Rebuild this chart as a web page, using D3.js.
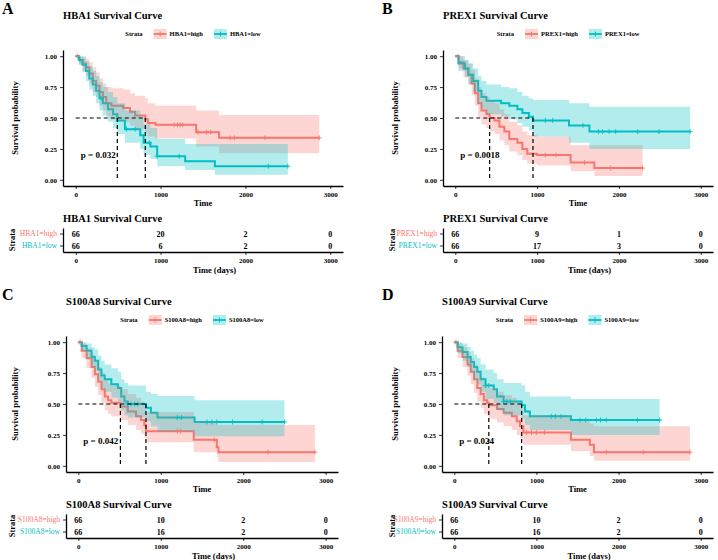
<!DOCTYPE html>
<html lang="en">
<head>
<meta charset="UTF-8">
<title>Survival Curves</title>
<style>
  body { margin: 0; background: #fff; }
  .axis path, .axis line { stroke: #000; }
</style>
</head>
<body>
<svg id="chart" width="718" height="560" font-family="'Liberation Serif', 'Times New Roman', serif" font-weight="bold"></svg>
<script src="https://d3js.org/d3.v7.min.js"></script>
<script>
// ---- data ----
const genes = ["HBA1", "PREX1", "S100A8", "S100A9"];
const letters = ["A", "B", "C", "D"];
const pValues = ["p = 0.032", "p = 0.0018", "p = 0.042", "p = 0.024"];
const xTicks = [0, 1000, 2000, 3000];
const yTicks = [0, 0.25, 0.5, 0.75, 1];

// risk table: numbers at risk at 0, 1000, 2000, 3000
const riskHigh = [[66, 20, 2, 0], [66, 9, 1, 0], [66, 10, 2, 0], [66, 10, 2, 0]];
const riskLow  = [[66, 6, 2, 0],  [66, 17, 3, 0], [66, 16, 2, 0], [66, 16, 2, 0]];

// median survival (high, low)
const medians = [[820, 490], [420, 950], [510, 820], [420, 820]];

// KM steps: [time, survival, lower, upper]
const hba1High = [
  [0,1,1,1],[40,0.97,0.93,1],[80,0.94,0.88,1],[120,0.91,0.84,0.98],[160,0.86,0.78,0.95],
  [200,0.80,0.71,0.91],[240,0.76,0.67,0.87],[280,0.71,0.60,0.82],[320,0.67,0.56,0.78],
  [360,0.62,0.51,0.75],[420,0.60,0.49,0.74],[560,0.58,0.47,0.73],[640,0.55,0.44,0.70],
  [700,0.52,0.41,0.68],[820,0.49,0.38,0.66],[850,0.46,0.35,0.62],[940,0.445,0.335,0.60],
  [1420,0.385,0.27,0.56],[1690,0.34,0.215,0.525],[2870,0.34,0.215,0.525]
];
const hba1Low = [
  [0,1,1,1],[40,0.97,0.93,1],[80,0.93,0.87,0.99],[120,0.88,0.80,0.96],[160,0.82,0.73,0.92],
  [200,0.77,0.68,0.88],[240,0.72,0.62,0.84],[280,0.66,0.56,0.79],[320,0.62,0.52,0.75],
  [380,0.57,0.47,0.71],[440,0.53,0.42,0.67],[490,0.48,0.37,0.62],[580,0.41,0.30,0.56],
  [760,0.36,0.25,0.51],[800,0.30,0.20,0.45],[880,0.27,0.17,0.42],[960,0.19,0.11,0.33],
  [1290,0.15,0.08,0.29],[1640,0.11,0.04,0.29],[2500,0.11,0.04,0.29]
];
const prex1High = [
  [0,1,1,1],[40,0.95,0.90,1],[100,0.90,0.83,0.97],[160,0.85,0.77,0.94],[200,0.78,0.69,0.89],
  [240,0.70,0.60,0.82],[280,0.62,0.51,0.75],[320,0.56,0.45,0.70],[380,0.53,0.42,0.67],
  [420,0.50,0.39,0.64],[480,0.48,0.37,0.62],[540,0.43,0.32,0.57],[600,0.39,0.28,0.53],
  [660,0.33,0.23,0.47],[760,0.30,0.20,0.44],[820,0.25,0.16,0.39],[880,0.21,0.13,0.36],
  [1000,0.20,0.115,0.35],[1410,0.14,0.07,0.28],[1700,0.095,0.03,0.28],[2290,0.095,0.03,0.28]
];
const prex1Low = [
  [0,1,1,1],[40,0.94,0.88,1],[120,0.90,0.83,0.97],[160,0.85,0.77,0.94],[220,0.80,0.71,0.90],
  [280,0.72,0.62,0.84],[320,0.67,0.57,0.80],[380,0.64,0.53,0.77],[560,0.62,0.51,0.75],
  [660,0.60,0.49,0.74],[760,0.57,0.46,0.71],[820,0.54,0.43,0.68],[900,0.51,0.40,0.66],
  [950,0.48,0.35,0.645],[1390,0.44,0.30,0.62],[1640,0.39,0.25,0.59],[2870,0.39,0.25,0.59]
];
const s100a8High = [
  [0,1,1,1],[40,0.93,0.87,0.99],[100,0.87,0.79,0.95],[160,0.80,0.71,0.90],[200,0.74,0.64,0.85],
  [240,0.68,0.57,0.80],[280,0.62,0.51,0.75],[320,0.56,0.45,0.70],[360,0.53,0.42,0.67],
  [400,0.51,0.40,0.65],[510,0.48,0.37,0.62],[600,0.44,0.33,0.58],[700,0.40,0.29,0.55],
  [760,0.37,0.26,0.52],[800,0.33,0.23,0.48],[820,0.28,0.19,0.435],[1400,0.21,0.11,0.36],
  [1680,0.15,0.07,0.33],[1700,0.11,0.03,0.33],[2870,0.11,0.03,0.33]
];
const s100a8Low = [
  [0,1,1,1],[40,0.97,0.93,1],[100,0.93,0.87,0.99],[160,0.88,0.80,0.96],[200,0.85,0.77,0.94],
  [240,0.78,0.69,0.89],[280,0.73,0.63,0.85],[320,0.70,0.60,0.82],[400,0.66,0.55,0.79],
  [480,0.63,0.52,0.76],[520,0.56,0.45,0.70],[560,0.52,0.41,0.67],[600,0.50,0.39,0.65],
  [820,0.47,0.36,0.60],[880,0.43,0.32,0.58],[960,0.39,0.28,0.565],[1410,0.355,0.24,0.53],
  [2500,0.355,0.24,0.53]
];
const s100a9High = [
  [0,1,1,1],[40,0.93,0.87,0.99],[100,0.88,0.80,0.96],[160,0.82,0.73,0.92],[200,0.76,0.66,0.87],
  [240,0.70,0.59,0.82],[280,0.63,0.52,0.76],[320,0.58,0.47,0.72],[360,0.53,0.42,0.67],
  [400,0.51,0.40,0.65],[420,0.49,0.38,0.63],[520,0.46,0.35,0.60],[600,0.43,0.32,0.57],
  [700,0.40,0.29,0.55],[760,0.36,0.25,0.51],[800,0.32,0.22,0.47],[840,0.27,0.17,0.41],
  [1420,0.21,0.12,0.36],[1650,0.17,0.08,0.34],[1700,0.11,0.04,0.32],[2870,0.11,0.04,0.32]
];
const s100a9Low = [
  [0,1,1,1],[40,0.96,0.91,1],[100,0.92,0.85,0.99],[160,0.88,0.80,0.96],[200,0.84,0.75,0.93],
  [240,0.80,0.70,0.90],[280,0.76,0.66,0.87],[320,0.70,0.60,0.82],[380,0.65,0.54,0.78],
  [480,0.62,0.51,0.75],[520,0.56,0.45,0.70],[600,0.52,0.41,0.67],[820,0.49,0.38,0.65],
  [860,0.44,0.33,0.60],[920,0.40,0.29,0.56],[1420,0.37,0.25,0.54],[2500,0.37,0.25,0.54]
];

// censoring times
const hba1HighCens   = [20, 1160, 1200, 1230, 1260, 1440, 1540, 1590, 1820, 1870, 2230, 2870];
const hba1LowCens    = [50, 300, 600, 700, 870, 960, 1220, 2270, 2500];
const prex1HighCens  = [30, 1100, 1230, 1580, 1900, 2290];
const prex1LowCens   = [1100, 1190, 1560, 1750, 1800, 1880, 1960, 2230, 2490, 2870];
const s100a8HighCens = [20, 1200, 1240, 1650, 2300, 2870];
const s100a8LowCens  = [600, 640, 680, 720, 1200, 1250, 1560, 1620, 1680, 1870, 2230, 2500];
const s100a9HighCens = [20, 880, 940, 1000, 1100, 1850, 2300, 2870];
const s100a9LowCens  = [380, 420, 600, 640, 680, 1180, 1230, 1300, 1530, 1600, 1730, 1780, 1850, 2230, 2500];

const highCurves = [hba1High, prex1High, s100a8High, s100a9High];
const lowCurves  = [hba1Low, prex1Low, s100a8Low, s100a9Low];
const highCens   = [hba1HighCens, prex1HighCens, s100a8HighCens, s100a9HighCens];
const lowCens    = [hba1LowCens, prex1LowCens, s100a8LowCens, s100a9LowCens];

// ---- layout ----
const RED = "#F8766D", TEAL = "#00BFC4";
const FONT = "'Liberation Serif', 'Times New Roman', serif";
const panelBox = [
  {x0: 0,   y0: 0,   left: 63,  right: 343},
  {x0: 380, y0: 0,   left: 443, right: 713},
  {x0: 0,   y0: 286, left: 66,  right: 338},
  {x0: 380, y0: 286, left: 442, right: 713}
];

const svg = d3.select("#chart");

function survAt(curve, t) {
  let s = curve[0][1];
  curve.forEach(r => { if (r[0] <= t) s = r[1]; });
  return s;
}

function styleAxis(a, size) {
  a.attr("class", "axis").attr("font-family", FONT).attr("font-weight", "bold");
  a.select(".domain").attr("stroke-width", 1.3);
  a.selectAll(".tick line").attr("stroke-width", 0.8);
  a.selectAll(".tick text").attr("font-size", size).attr("fill", "#000");
}

function drawPanel(i) {
  const box = panelBox[i];
  const g = svg.append("g").attr("transform", `translate(0,${box.y0})`);
  const x = d3.scaleLinear().domain([-150, 3150]).range([box.left, box.right]);
  const y = d3.scaleLinear().domain([-0.05, 1.05]).range([186, 50]);
  const mid = (box.left + box.right) / 2;
  const gene = genes[i];

  g.append("text").attr("x", box.x0 + 2).attr("y", 14).attr("font-size", 16).text(letters[i]);
  g.append("text").attr("x", box.left).attr("y", 19).attr("font-size", 10.5).text(gene + " Survival Curve");

  // legend
  const lg = g.append("g").attr("transform", "translate(0,34)");
  const items = [
    {label: "Strata", key: null},
    {label: gene + "=high", key: RED},
    {label: gene + "=low", key: TEAL}
  ];
  const parts = [];
  items.forEach(it => {
    const ig = lg.append("g");
    let off = 0;
    if (it.key) {
      ig.append("rect").attr("x", 0).attr("y", -5).attr("width", 13).attr("height", 10)
        .attr("fill", it.key).attr("fill-opacity", 0.3);
      ig.append("line").attr("x1", 0).attr("x2", 13).attr("y1", 0).attr("y2", 0)
        .attr("stroke", it.key).attr("stroke-width", 1.8);
      ig.append("path").attr("d", "M6.5,-2.5V2.5").attr("stroke", it.key).attr("stroke-width", 1);
      off = 16;
    }
    const tx = ig.append("text").attr("x", off).attr("y", 2.2).attr("font-size", 6.5).text(it.label);
    parts.push({ig, w: off + tx.node().getComputedTextLength()});
  });
  const gaps = [11, 11];
  const total = d3.sum(parts, p => p.w) + d3.sum(gaps);
  let cx = mid - 10 - total / 2;
  parts.forEach((p, k) => {
    p.ig.attr("transform", `translate(${cx},0)`);
    cx += p.w + (gaps[k] || 0);
  });

  // curves: lines first, bands over them
  const line = d3.line().curve(d3.curveStepAfter).x(d => x(d[0])).y(d => y(d[1]));
  const area = d3.area().curve(d3.curveStepAfter).x(d => x(d[0])).y0(d => y(d[2])).y1(d => y(d[3]));
  const curves = [{c: highCurves[i], cens: highCens[i], col: RED}, {c: lowCurves[i], cens: lowCens[i], col: TEAL}];
  curves.forEach(o => {
    g.append("path").datum(o.c).attr("d", line).attr("fill", "none")
      .attr("stroke", o.col).attr("stroke-width", 2);
  });
  curves.forEach(o => {
    g.append("path").datum(o.c).attr("d", area).attr("fill", o.col).attr("fill-opacity", 0.3);
  });
  curves.forEach(o => {
    g.append("g").selectAll("path").data(o.cens).join("path")
      .attr("transform", t => `translate(${x(t)},${y(survAt(o.c, t))})`)
      .attr("d", "M-2.5,0H2.5M0,-2.5V2.5")
      .attr("stroke", o.col).attr("stroke-width", 0.9);
  });

  // median lines
  const med = medians[i];
  g.append("line").attr("x1", x(0)).attr("x2", x(d3.max(med))).attr("y1", y(0.5)).attr("y2", y(0.5))
    .attr("stroke", "#000").attr("stroke-width", 1.2).attr("stroke-dasharray", "4,3");
  med.forEach(m => {
    g.append("line").attr("x1", x(m)).attr("x2", x(m)).attr("y1", y(0.5)).attr("y2", y(0))
      .attr("stroke", "#000").attr("stroke-width", 1.2).attr("stroke-dasharray", "4,3");
  });

  g.append("text").attr("x", x(60)).attr("y", y(0.2)).attr("dy", "0.35em")
    .attr("font-size", 9).text(pValues[i]);

  // axes
  const ax = g.append("g").attr("transform", "translate(0,186)")
    .call(d3.axisBottom(x).tickValues(xTicks).tickSize(3).tickSizeOuter(0).tickFormat(d3.format("d")));
  styleAxis(ax, 7);
  const ay = g.append("g").attr("transform", `translate(${box.left},0)`)
    .call(d3.axisLeft(y).tickValues(yTicks).tickSize(3).tickSizeOuter(0).tickFormat(d3.format(".2f")));
  styleAxis(ay, 7);

  g.append("text").attr("x", mid).attr("y", 206).attr("text-anchor", "middle").attr("font-size", 8.5).text("Time");
  g.append("text").attr("transform", `translate(${box.x0 + 18},118) rotate(-90)`)
    .attr("text-anchor", "middle").attr("font-size", 8.5).text("Survival probability");

  // risk table
  g.append("text").attr("x", box.left).attr("y", 222).attr("font-size", 10.5).text(gene + " Survival Curve");
  const strata = [gene + "=high", gene + "=low"];
  const yT = d3.scaleBand().domain(strata).range([228, 252]);
  const rows = [riskHigh[i], riskLow[i]];
  rows.forEach((r, k) => {
    g.append("g").selectAll("text").data(r).join("text")
      .attr("x", (d, j) => x(xTicks[j])).attr("y", yT(strata[k]) + yT.bandwidth() / 2)
      .attr("dy", "0.35em").attr("text-anchor", "middle").attr("font-size", 8).text(d => d);
  });
  const tx = g.append("g").attr("transform", "translate(0,252)")
    .call(d3.axisBottom(x).tickValues(xTicks).tickSize(3).tickSizeOuter(0).tickFormat(d3.format("d")));
  styleAxis(tx, 7);
  const ty = g.append("g").attr("transform", `translate(${box.left},0)`)
    .call(d3.axisLeft(yT).tickSize(3).tickSizeOuter(0));
  styleAxis(ty, 7.5);
  ty.selectAll(".tick text").attr("font-weight", "normal").attr("fill", (d, k) => k === 0 ? RED : TEAL);
  g.append("text").attr("x", mid - 10).attr("y", 273).attr("font-size", 8.5).text("Time (days)");
  g.append("text").attr("transform", `translate(${box.x0 + 15},240) rotate(-90)`)
    .attr("text-anchor", "middle").attr("font-size", 8.5).text("Strata");
}

genes.forEach((g, i) => drawPanel(i));
</script>
</body>
</html>
